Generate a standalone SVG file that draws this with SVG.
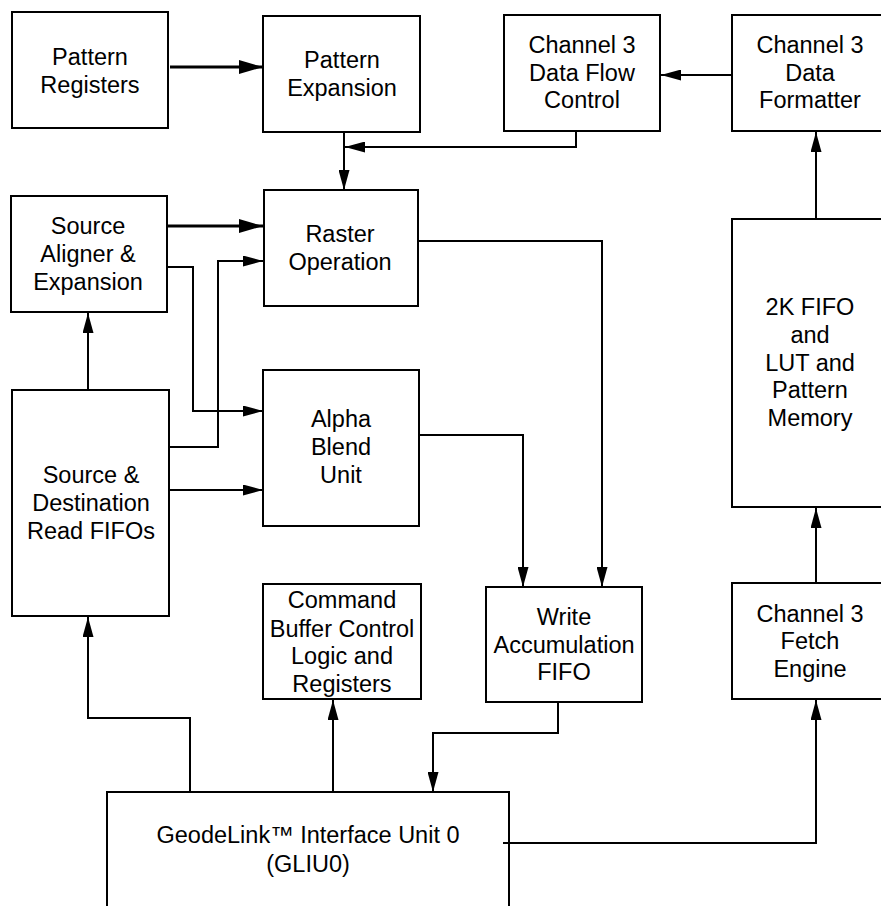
<svg xmlns="http://www.w3.org/2000/svg" width="881" height="906" viewBox="0 0 881 906">
<style>
.box{fill:#fff;stroke:#000;stroke-width:2}
.t{font-family:"Liberation Sans",Arial,Helvetica,sans-serif;font-size:23.5px;fill:#000;text-anchor:middle}
.c{fill:none;stroke:#000;stroke-width:2;marker-end:url(#a)}
.ck{fill:none;stroke:#000;stroke-width:3.2;marker-end:url(#ak)}
.cn{fill:none;stroke:#000;stroke-width:2}
</style>
<defs>
<marker id="a" viewBox="0 0 20 11" refX="20" refY="5.5" markerWidth="20" markerHeight="11" markerUnits="userSpaceOnUse" orient="auto"><path d="M0,0 L20,5.5 L0,11 z" fill="#000"/></marker>
<marker id="ak" viewBox="0 0 24 14" refX="24" refY="7" markerWidth="24" markerHeight="14" markerUnits="userSpaceOnUse" orient="auto"><path d="M0,0 L24,7 L0,14 z" fill="#000"/></marker>
</defs>
<rect width="881" height="906" fill="#fff"/>
<g id="connectors">
<path class="ck" d="M170,67 H263"/>
<path class="c" d="M344,132 V190"/>
<path class="c" d="M576,131 V147 H345"/>
<path class="c" d="M732,75 H661"/>
<path class="c" d="M816,219 V132"/>
<path class="c" d="M816,583 V508"/>
<path class="c" d="M503,843 H816 V700"/>
<path class="ck" d="M167,226 H263"/>
<path class="c" d="M165,267 H193 V411 H263"/>
<path class="c" d="M169,447 H218 V261 H263"/>
<path class="c" d="M169,490 H263"/>
<path class="c" d="M88,390 V313"/>
<path class="c" d="M418,241 H602 V587"/>
<path class="c" d="M419,435 H523 V587"/>
<path class="c" d="M558,702 V733 H433 V792"/>
<path class="c" d="M333,792 V700"/>
<path class="c" d="M190,792 V718 H88 V617"/>
</g>
<g id="pattern-registers">
<rect class="box" x="12" y="12" width="156" height="116"/>
<text class="t" x="90" y="65">Pattern</text>
<text class="t" x="90" y="93">Registers</text>
</g>
<g id="pattern-expansion">
<rect class="box" x="263" y="16" width="157" height="116"/>
<text class="t" x="342" y="68">Pattern</text>
<text class="t" x="342" y="96">Expansion</text>
</g>
<g id="data-flow-control">
<rect class="box" x="504" y="15" width="156" height="116"/>
<text class="t" x="582" y="53">Channel 3</text>
<text class="t" x="582" y="81">Data Flow</text>
<text class="t" x="582" y="108">Control</text>
</g>
<g id="data-formatter">
<rect class="box" x="732" y="15" width="160" height="116"/>
<text class="t" x="810" y="53">Channel 3</text>
<text class="t" x="810" y="81">Data</text>
<text class="t" x="810" y="108">Formatter</text>
</g>
<g id="raster-operation">
<rect class="box" x="264" y="190" width="154" height="116"/>
<text class="t" x="340" y="242">Raster</text>
<text class="t" x="340" y="270">Operation</text>
</g>
<g id="source-aligner">
<rect class="box" x="11" y="196" width="156" height="116"/>
<text class="t" x="88" y="234">Source</text>
<text class="t" x="88" y="262">Aligner &amp;</text>
<text class="t" x="88" y="290">Expansion</text>
</g>
<g id="alpha-blend">
<rect class="box" x="263" y="370" width="156" height="156"/>
<text class="t" x="341" y="427">Alpha</text>
<text class="t" x="341" y="455">Blend</text>
<text class="t" x="341" y="483">Unit</text>
</g>
<g id="read-fifos">
<rect class="box" x="12" y="390" width="157" height="226"/>
<text class="t" x="91" y="483">Source &amp;</text>
<text class="t" x="91" y="511">Destination</text>
<text class="t" x="91" y="539">Read FIFOs</text>
</g>
<g id="fifo-lut">
<rect class="box" x="732" y="219" width="160" height="288"/>
<text class="t" x="810" y="315">2K FIFO</text>
<text class="t" x="810" y="343">and</text>
<text class="t" x="810" y="371">LUT and</text>
<text class="t" x="810" y="398">Pattern</text>
<text class="t" x="810" y="426">Memory</text>
</g>
<g id="write-accumulation">
<rect class="box" x="486" y="587" width="156" height="115"/>
<text class="t" x="564" y="625">Write</text>
<text class="t" x="564" y="653">Accumulation</text>
<text class="t" x="564" y="680">FIFO</text>
</g>
<g id="fetch-engine">
<rect class="box" x="732" y="583" width="160" height="116"/>
<text class="t" x="810" y="622">Channel 3</text>
<text class="t" x="810" y="649">Fetch</text>
<text class="t" x="810" y="677">Engine</text>
</g>
<g id="command-buffer">
<rect class="box" x="263" y="584" width="158" height="115"/>
<text class="t" x="342" y="608">Command</text>
<text class="t" x="342" y="637">Buffer Control</text>
<text class="t" x="342" y="664">Logic and</text>
<text class="t" x="342" y="692">Registers</text>
</g>
<g id="gliu0">
<path class="cn" d="M107,910 V792 H509 V910"/>
<text class="t" x="308" y="843">GeodeLink™ Interface Unit 0</text>
<text class="t" x="308" y="872">(GLIU0)</text>
</g>
</svg>
